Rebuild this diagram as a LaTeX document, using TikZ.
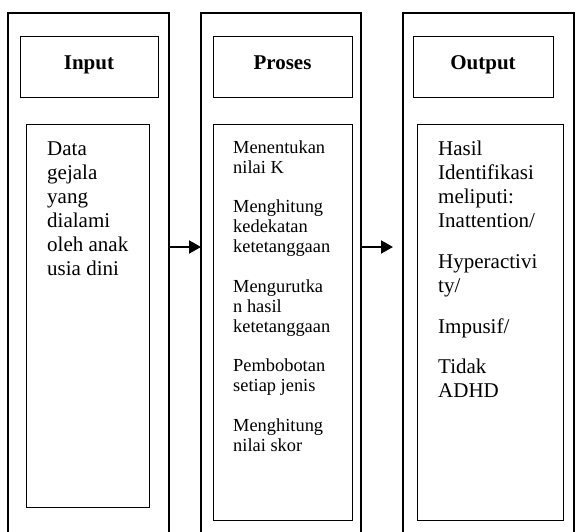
\documentclass[tikz,border=0pt]{standalone}
\usepackage{fontspec}
\setmainfont{Liberation Serif}
\usetikzlibrary{arrows.meta}
\usetikzlibrary{positioning}

\begin{document}
\begin{tikzpicture}[x=1pt, y=-1pt,
    column/.style={draw, line width=2.2pt, minimum height=560pt, anchor=north west, inner sep=0pt, outer sep=0pt},
    titlebox/.style={draw, line width=1pt, minimum width=139pt, minimum height=61pt, anchor=north west, inner sep=0pt, outer sep=0pt, font=\fontsize{21}{24.15}\selectfont\bfseries, text height=13.9pt, text depth=10pt},
    listbox/.style={draw, line width=1pt, anchor=north west, inner sep=0pt, outer sep=0pt},
    bigtext/.style={anchor=north west, inner sep=0pt, align=left, font=\fontsize{21}{24.15}\selectfont},
    smalltext/.style={anchor=north west, inner sep=0pt, align=left, font=\fontsize{18.4}{20}\selectfont},
    flow/.style={line width=2pt, -{Triangle[length=12pt, width=13pt]}}]

    \useasboundingbox (0, 0) rectangle (576, 532);
    \clip (0, 0) rectangle (576, 532);

    \node [column, minimum width=161pt] (inputcol) at (8, 13) {};
    \node [column, minimum width=160pt] (prosescol) at (201, 13) {};
    \node [column, minimum width=171pt] (outputcol) at (403, 13) {};

    \node [titlebox, minimum width=138pt] (inputtitle) at (20, 37) {Input};
    \node [titlebox] (prosestitle) at (213, 37) {Proses};
    \node [titlebox, minimum width=140pt] (outputtitle) at (413, 37) {Output};

    \node [listbox, minimum width=123pt, minimum height=382pt] (inputlist) at (26, 125) {};
    \node [listbox, minimum width=139pt, minimum height=395pt] (proseslist) at (213, 125) {};
    \node [listbox, minimum width=146pt, minimum height=395pt] (outputlist) at (417, 125) {};

    \node [bigtext] (inputtext) at (47, 138.1) {\strut Data\\gejala\\yang\\dialami\\oleh anak\\usia dini};
    \node [smalltext] (prosestext) at (233, 139) {\strut Menentukan\\nilai K\\[19.5pt]
        Menghitung\\kedekatan\\ketetanggaan\\[19.5pt]
        Mengurutka\\n hasil\\ketetanggaan\\[19.5pt]
        Pembobotan\\setiap jenis\\[19.5pt]
        Menghitung\\nilai skor};
    \node [bigtext] (outputtext) at (438, 138.1) {\strut Hasil\\Identifikasi\\meliputi:\\Inattention/\\[16.5pt]
        Hyperactivi\\ty/\\[16.5pt]
        Impusif/\\[16.5pt]
        Tidak\\ADHD};

    \coordinate (arrowrow) at (0, 247);
    \draw [flow] (inputcol.east |- arrowrow) -- (prosescol.west |- arrowrow);
    \draw [flow, shorten >=10pt] (prosescol.east |- arrowrow) -- (outputcol.west |- arrowrow);
  \end{tikzpicture}
\end{document}
